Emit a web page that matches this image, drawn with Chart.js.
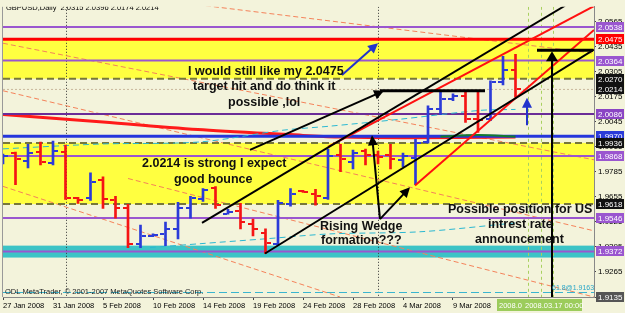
<!DOCTYPE html>
<html><head><meta charset="utf-8">
<script src="https://cdn.jsdelivr.net/npm/chart.js@4"></script>
<style>html,body{margin:0;padding:0;background:#f3f3db;}canvas{display:block}</style>
</head><body>
<canvas id="c" width="625" height="313"></canvas>
<script>
// ---------- data ----------
const xTickIndex  = [0,4,8,12,16,20,24,28,32,36];
const xTickLabels = ['27 Jan 2008','31 Jan 2008','5 Feb 2008','10 Feb 2008','14 Feb 2008','19 Feb 2008','24 Feb 2008','28 Feb 2008','4 Mar 2008','9 Mar 2008'];
const yTickLabels = [1.9135,1.9265,1.9395,1.9525,1.9655,1.9785,1.9915,2.0045,2.0175,2.0305,2.0435,2.0565];

const opens  = [1.9835,1.9883,1.9842,1.9888,1.9832,1.9888,1.9647,1.9647,1.9745,1.9637,1.9596,1.9412,1.9453,1.9463,1.9489,1.9596,1.9642,1.9699,1.9566,1.9581,1.9515,1.9468,1.9412,1.9617,1.9686,1.9668,1.9648,1.9873,1.9837,1.9894,1.9873,1.9873,1.9848,1.9858,1.9940,2.0110,2.0165,2.0180,2.0060,2.0060,2.0250,2.0315];
const highs  = [1.9878,1.9888,1.9929,1.9940,1.9945,1.9924,1.9653,1.9781,1.9760,1.9658,1.9617,1.9509,1.9463,1.9525,1.9627,1.9658,1.9699,1.9709,1.9591,1.9622,1.9540,1.9489,1.9637,1.9699,1.9689,1.9694,1.9904,1.9929,1.9899,1.9904,1.9894,1.9929,1.9883,1.9955,2.0129,2.0206,2.0191,2.0206,2.0206,2.0258,2.0386,2.0396];
const lows   = [1.9827,1.9719,1.9806,1.9822,1.9822,1.9642,1.9622,1.9637,1.9596,1.9545,1.9391,1.9391,1.9448,1.9402,1.9437,1.9545,1.9632,1.9596,1.9566,1.9489,1.9453,1.9360,1.9402,1.9607,1.9678,1.9612,1.9642,1.9786,1.9801,1.9822,1.9827,1.9801,1.9812,1.9719,1.9935,2.0083,2.0155,2.0042,1.9991,2.0052,2.0237,2.0174];
const closes = [1.9870,1.9853,1.9883,1.9837,1.9894,1.9647,1.9640,1.9735,1.9642,1.9596,1.9412,1.9453,1.9458,1.9489,1.9596,1.9648,1.9689,1.9612,1.9576,1.9525,1.9489,1.9417,1.9622,1.9668,1.9681,1.9658,1.9868,1.9853,1.9883,1.9873,1.9863,1.9853,1.9868,1.9935,2.0110,2.0165,2.0180,2.0060,2.0055,2.0250,2.0315,2.0214];

const maRed   = [[0,2.0084],[8,2.0045],[16,2.0004],[24,1.9975],[27,1.9966],[32,1.9963],[41,1.9966]];
const maGreen = [[35,1.9969],[38,1.9977],[41,1.9969]];
const maCyan1 = [[0,1.9905],[7.76,1.9930],[15.76,1.9941],[22.4,2.0002],[26.16,2.0023],[31.76,2.0059],[38.16,2.0105],[41,2.0110]];
const maCyan2 = [[11.76,1.9392],[15.76,1.9412],[21.12,1.9438],[26.16,1.9463],[33.36,1.9474],[41,1.9520]];

const levelPrices = [2.0538,2.0475,2.0364,2.0270,2.0214,2.0086,1.9970,1.9936,1.9868,1.9618,1.9546,1.9372];
const fibPrice = 1.9163;
const yellowZones = [[2.0475,2.0270],[1.9936,1.9618]];
const cyanZone = [1.9402,1.9340];
const vLinesBlack = [5,30];
const vLinesGreen = [42,43,44];

const blackTrend = [[[15.92,1.9520],[44.96,2.0649]], [[20.96,1.9361],[47.28,2.0421]]];
const redTrend   = [[[26.0,1.9915],[47.28,2.0647]], [[32.96,1.9715],[47.28,2.0523]]];
const blackSegments = [[[30.16,2.0207],[38.56,2.0207]], [[42.72,2.0418],[47.2,2.0418]]];
const blackArrows = [[[19.76,1.9900],[30.48,2.0207]], [[30.16,1.9540],[29.52,1.9976]], [[30.16,1.9540],[32.56,1.9705]], [[43.92,1.9135],[43.92,2.0413]]];
const blueArrows  = [[[27.12,2.0289],[30.0,2.0454]], [[41.92,2.0028],[41.92,2.0171]]];
const orangeLines = [[[0,2.0454],[47.28,1.9848]], [[14.96,2.0659],[47.28,2.0402]], [[0,2.0207],[47.28,1.9479]], [[0,1.9710],[26.96,1.9135]], [[10,1.9751],[47.28,1.9135]]];

const notes = [
 ['I would still like my 2.0475',14.8,2.0307],
 ['target hit and do think it',15.2,2.0230],
 ['possible ,lol',18.0,2.0148],
 ['2.0214 is strong I expect',11.12,1.9828],
 ['good bounce',13.68,1.9746],
 ['Rising Wedge',25.36,1.9502],
 ['formation???',25.44,1.9427],
 ['Possible position for US',35.6,1.9587],
 ['intrest rate',38.8,1.9510],
 ['announcement',37.76,1.9433]
];
const axisBoxPrices = [2.0538,2.0475,2.0364,2.0270,2.0214,2.0086,1.9970,1.9936,1.9868,1.9618,1.9546,1.9372,1.9135];
const headerText = 'GBPUSD,Daily  2.0315 2.0396 2.0174 2.0214';

// ---------- styles ----------
const FONT = "'Liberation Sans', Arial, sans-serif";
const BLUE = '#2b3bd8', RED = '#f51414';
const PURPLE = '#9a56cf', OLIVE = '#77773a';
const levelStyle = [
 [PURPLE,2,[]],['#ff0000',3,[]],[PURPLE,2,[]],[OLIVE,2,[7,4]],['#c9b79c',1,[2,2]],['#6a2c98',2,[]],
 ['#2536dc',3,[]],[OLIVE,2,[7,4]],[PURPLE,2,[]],[OLIVE,2,[7,4]],[PURPLE,2,[]],[PURPLE,2,[]]
];
const axisBoxColors = [PURPLE,'#ff0000',PURPLE,'#111','#111','#8a45c4','#2b3bd8','#111',PURPLE,'#111',PURPLE,PURPLE,'#555'];

const pts = a => a.map(([x,y])=>({x,y}));

function P(chart,x,y){return [chart.scales.x.getPixelForValue(x), chart.scales.y.getPixelForValue(y)];}
function seg(c,a,b,color,w,dash){c.save();c.strokeStyle=color;c.lineWidth=w;c.setLineDash(dash||[]);c.beginPath();c.moveTo(a[0],a[1]);c.lineTo(b[0],b[1]);c.stroke();c.restore();}
function arrow(c,a,b,color,w,hl,hw){
  const ang=Math.atan2(b[1]-a[1],b[0]-a[0]), co=Math.cos(ang), si=Math.sin(ang);
  seg(c,a,[b[0]-co*hl*0.7,b[1]-si*hl*0.7],color,w);
  c.fillStyle=color;c.beginPath();c.moveTo(b[0],b[1]);
  c.lineTo(b[0]-co*hl+si*hw,b[1]-si*hl-co*hw);
  c.lineTo(b[0]-co*hl-si*hw,b[1]-si*hl+co*hw);
  c.closePath();c.fill();
}
function clipArea(chart){const a=chart.chartArea,c=chart.ctx;c.save();c.beginPath();c.rect(a.left,a.top,a.right-a.left,a.bottom-a.top);c.clip();}

const mt4 = {
  id:'mt4',
  beforeDraw(chart){const c=chart.ctx;c.save();c.fillStyle='#f3f3db';c.fillRect(0,0,chart.width,chart.height);c.restore();},
  beforeDatasetsDraw(chart){
    const c=chart.ctx,a=chart.chartArea,ys=chart.scales.y,xs=chart.scales.x;
    clipArea(chart);
    c.fillStyle='#ffff40';
    yellowZones.forEach(([p1,p2])=>{const y1=ys.getPixelForValue(p1),y2=ys.getPixelForValue(p2);c.fillRect(a.left,y1,a.right-a.left,y2-y1);});
    const cy1=ys.getPixelForValue(cyanZone[0]),cy2=ys.getPixelForValue(cyanZone[1]);
    c.fillStyle='#3cc3c6';c.fillRect(a.left,cy1,a.right-a.left,cy2-cy1);
    vLinesBlack.forEach(i=>{const x=Math.round(xs.getPixelForValue(i))+0.5;seg(c,[x,a.top],[x,a.bottom],'#333',1,[1,2]);});
    vLinesGreen.forEach(i=>{const x=Math.round(xs.getPixelForValue(i))+0.5;seg(c,[x,a.top],[x,a.bottom],'#a8d060',1,[3,3]);});
    orangeLines.forEach(([p,q])=>seg(c,P(chart,p[0],p[1]),P(chart,q[0],q[1]),'#f4825a',1,[5,3]));
    const fy=Math.round(ys.getPixelForValue(fibPrice))+0.5;
    seg(c,[a.left,fy],[a.right,fy],'#3ab5cf',1,[8,4]);
    c.restore();
  },
  afterDatasetDraw(chart,args){
    const c=chart.ctx,a=chart.chartArea,xs=chart.scales.x,ys=chart.scales.y;
    if(args.index===0){ // after red MA: horizontal levels
      clipArea(chart);
      levelPrices.forEach((p,k)=>{const [col,w,d]=levelStyle[k];const y=ys.getPixelForValue(p);seg(c,[a.left,y],[a.right,y],col,w,d);});
      c.restore();
    }
    if(args.meta.type==='bar'){
      clipArea(chart);
      opens.forEach((o,i)=>{
        const x=Math.round(xs.getPixelForValue(i)); const col=closes[i]>=o?BLUE:RED;
        c.fillStyle=col;
        c.fillRect(x-5,Math.round(ys.getPixelForValue(o))-1,4,2);
        c.fillRect(x+1,Math.round(ys.getPixelForValue(closes[i]))-1,4,2);
      });
      c.restore();
    }
  },
  afterDatasetsDraw(chart){
    const c=chart.ctx,a=chart.chartArea;
    clipArea(chart);
    redTrend.forEach(([p,q])=>seg(c,P(chart,...p),P(chart,...q),'#ff1010',2));
    blackTrend.forEach(([p,q])=>seg(c,P(chart,...p),P(chart,...q),'#000',2));
    blackSegments.forEach(([p,q])=>seg(c,P(chart,...p),P(chart,...q),'#000',3));
    blackArrows.forEach(([p,q],k)=>arrow(c,P(chart,...p),P(chart,...q),'#000',2,k===3?10:10,k===3?6:5));
    blueArrows.forEach(([p,q])=>arrow(c,P(chart,...p),P(chart,...q),'#2233cc',2,10,5));
    c.fillStyle='#111';c.font='bold 12.5px '+FONT;c.textBaseline='middle';c.textAlign='left';
    notes.forEach(([t,x,y])=>{const q=P(chart,x,y);c.fillText(t,q[0],q[1]);});
    c.font='7.5px '+FONT;c.fillStyle='#000';c.fillText(headerText,6,7.5);
    c.fillStyle='#222';c.fillText('ODL MetaTrader, \u00a9 2001-2007 MetaQuotes Software Corp.',5,291.5);
    c.fillStyle='#2aa7c9';c.font='7px '+FONT;c.fillText('61.8@1.9163',552,288);
    c.restore();
    // left frame
    seg(c,[a.left-0.5,a.top],[a.left-0.5,a.bottom],'#999',1);
  },
  afterDraw(chart){
    const c=chart.ctx,ys=chart.scales.y,a=chart.chartArea;
    c.save();c.font='8px '+FONT;c.textBaseline='middle';c.textAlign='left';
    axisBoxPrices.forEach((p,k)=>{const y=Math.round(ys.getPixelForValue(p));c.fillStyle=axisBoxColors[k];c.fillRect(a.right+2,y-5,28,10);c.fillStyle='#fff';c.fillText(p.toFixed(4),a.right+4,y+0.5);});
    // date crosshair box
    c.fillStyle='#9ccc5c';c.fillRect(497,299,85,12);
    c.fillStyle='#fff';c.font='7.5px '+FONT;c.fillText('2008.0',499,305.5);c.fillText('2008.03.17 00:00',525,305.5);
    c.restore();
  }
};

new Chart(document.getElementById('c'),{
  type:'bar',
  data:{datasets:[
    {type:'line',label:'redMA',data:pts(maRed),borderColor:'#ff1a1a',borderWidth:3,pointRadius:0,tension:0.3,order:10},
    {type:'line',label:'greenMA',data:pts(maGreen),borderColor:'#137a2e',borderWidth:2,pointRadius:0,tension:0.3,order:9},
    {type:'line',label:'cyan1',data:pts(maCyan1),borderColor:'#2ab8d2',borderWidth:1,borderDash:[6,4],pointRadius:0,tension:0.3,order:8},
    {type:'line',label:'cyan2',data:pts(maCyan2),borderColor:'#2ab8d2',borderWidth:1,borderDash:[6,4],pointRadius:0,tension:0.3,order:7},
    {type:'bar',label:'GBPUSD',data:highs.map((h,i)=>({x:i,y:[lows[i],h]})),backgroundColor:closes.map((cl,i)=>cl>=opens[i]?BLUE:RED),barThickness:2,borderWidth:0,order:1}
  ]},
  options:{
    responsive:false,animation:false,devicePixelRatio:1,
    layout:{padding:{left:3,top:3,right:0,bottom:0}},
    plugins:{legend:{display:false},tooltip:{enabled:false}},
    scales:{
      x:{type:'linear',min:0,max:47.28,offset:false,
         grid:{display:true,drawOnChartArea:false,tickLength:3,color:'#444',offset:false},
         border:{display:true,color:'#888'},
         ticks:{align:'start',padding:1,autoSkip:false,maxRotation:0,color:'#000',font:{family:FONT,size:7.5},
                callback:(v)=>{const k=xTickIndex.indexOf(v);return k>=0?xTickLabels[k]:'';}},
         afterBuildTicks:s=>{s.ticks=xTickIndex.map(v=>({value:v}));},
         afterFit:s=>{s.height=16;}},
      y:{type:'linear',position:'right',min:1.9135,max:2.06434,beginAtZero:false,
         grid:{display:true,drawOnChartArea:false,tickLength:2,color:'#444'},
         border:{display:true,color:'#888'},
         ticks:{padding:2,autoSkip:false,color:'#000',font:{family:FONT,size:8},callback:v=>v.toFixed(4)},
         afterBuildTicks:s=>{s.ticks=yTickLabels.map(v=>({value:v}));},
         afterFit:s=>{s.width=31;}}
    }
  },
  plugins:[mt4]
});
</script>
</body></html>
